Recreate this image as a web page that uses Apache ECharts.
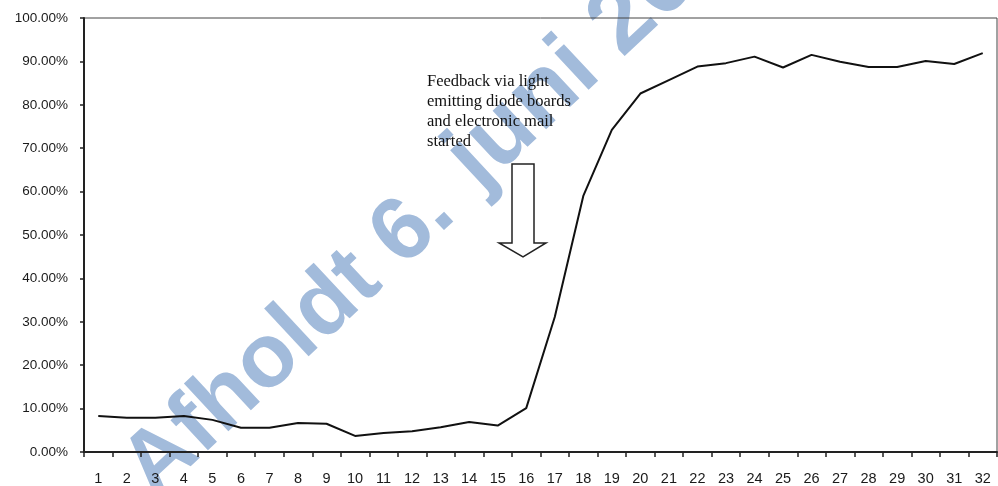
<!DOCTYPE html>
<html>
<head>
<meta charset="utf-8">
<script src="https://cdn.jsdelivr.net/npm/echarts@6/dist/echarts.min.js"></script>
<style>
  html, body { margin: 0; padding: 0; background: #fff; }
  #chart { width: 998px; height: 486px; }
</style>
</head>
<body>
<div id="chart"></div>
<script>
// periods 1..32
const periods = ['1','2','3','4','5','6','7','8','9','10','11','12','13','14','15','16',
  '17','18','19','20','21','22','23','24','25','26','27','28','29','30','31','32']
// share (%)
const shareValues = [8.3, 7.9, 7.9, 8.3, 7.4, 5.6, 5.6, 6.7, 6.5, 3.7, 4.4, 4.8, 5.7, 6.9, 6.1, 10.1,
  31.1, 59.0, 74.2, 82.6, 85.7, 88.8, 89.6, 91.1, 88.6, 91.5, 89.9, 88.7, 88.7, 90.1, 89.4, 91.9]
const annotationLines = ['Feedback via light', 'emitting diode boards', 'and electronic mail', 'started']
const watermarkParts = ['Afholdt 6.', 'juni 2016']

const chart = echarts.init(document.getElementById('chart'), null, { renderer: 'canvas' })

// scanned-in watermark, drawn behind the plot
function watermark (text, x, y, size) {
  return {
    type: 'text',
    z: -10,
    x: x,
    y: y,
    rotation: 43 * Math.PI / 180,
    silent: true,
    style: {
      text: text,
      fill: '#a2bbdb',
      font: 'bold ' + size + 'px "Liberation Sans"',
      textAlign: 'left',
      textVerticalAlign: 'bottom'
    }
  }
}

const option = {
  animation: false,
  backgroundColor: '#fff',
  grid: {
    left: 84,
    right: 1,
    top: 18,
    bottom: 34,
    show: true,
    borderColor: '#444',
    borderWidth: 1
  },
  xAxis: {
    type: 'category',
    data: periods,
    boundaryGap: true,
    axisLine: { lineStyle: { color: '#222', width: 2 } },
    axisTick: { show: true, length: 5, lineStyle: { color: '#222', width: 1.5 } },
    axisLabel: {
      interval: 0,
      margin: 19,
      color: '#1a1a1a',
      fontSize: 14.5,
      fontFamily: 'Liberation Sans'
    },
    splitLine: { show: false }
  },
  yAxis: {
    type: 'value',
    min: 0,
    max: 100,
    interval: 10,
    axisLine: { show: true, lineStyle: { color: '#222', width: 2 } },
    axisTick: { show: true, length: 4, lineStyle: { color: '#222', width: 1.5 } },
    axisLabel: {
      margin: 16,
      color: '#1a1a1a',
      fontSize: 13.5,
      fontFamily: 'Liberation Sans',
      formatter: v => v.toFixed(2) + '%'
    },
    splitLine: { show: false }
  },
  series: [
    {
      type: 'line',
      data: shareValues,
      showSymbol: false,
      z: 5,
      lineStyle: { color: '#111', width: 2 }
    }
  ],
  graphic: [
    watermark(watermarkParts[0], 168, 515, 90),
    watermark(watermarkParts[1], 494, 207, 95),
    {
      type: 'text',
      z: 20,
      left: 427,
      top: 72,
      style: {
        text: annotationLines.join('\n'),
        fill: '#111',
        font: '16.5px "Liberation Serif"',
        lineHeight: 20
      }
    },
    {
      type: 'polygon',
      z: 20,
      shape: {
        points: [[512, 164], [534, 164], [534, 243], [546, 243], [523, 257], [499, 243], [512, 243]]
      },
      style: { fill: '#fff', stroke: '#222', lineWidth: 1.5 }
    }
  ]
}

chart.setOption(option)
</script>
</body>
</html>
